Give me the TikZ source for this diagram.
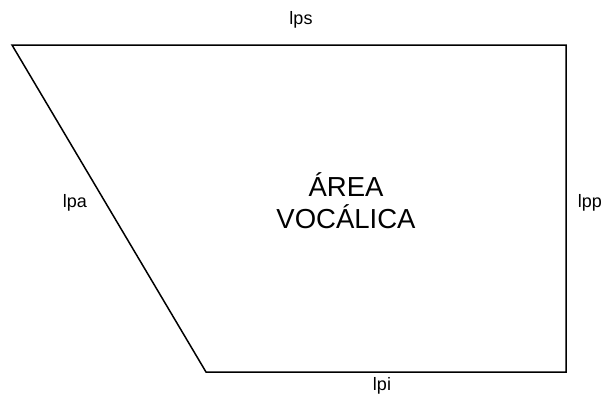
\documentclass[tikz,border=0pt]{standalone}
\usepackage{fontspec}
\setmainfont{Liberation Sans}

\begin{document}
\begin{tikzpicture}[x=1pt,y=-1pt,
    lbl/.style={font=\fontsize{18}{21}\selectfont, inner sep=0pt},
    area/.style={font=\fontsize{27.5}{32}\selectfont, align=center, inner sep=0pt}]
            \useasboundingbox (0,0) rectangle (608,405);

            \coordinate (A) at (12,45);
            \coordinate (B) at (566,45);
            \coordinate (C) at (566,372);
            \coordinate (D) at (206,372);

            \draw[line width=1.5pt] (A)--(B)--(C)--(D)--cycle;

            \node[lbl] (lps) at (301,20) {lps};
            \node[lbl] (lpa) at (75,203) {lpa};
            \node[lbl] (lpp) at (590,203) {lpp};
            \node[lbl] (lpi) at (382,386) {lpi};

            \node[area] (av) at (346,201) {ÁREA\\VOCÁLICA};
        \end{tikzpicture}
\end{document}
